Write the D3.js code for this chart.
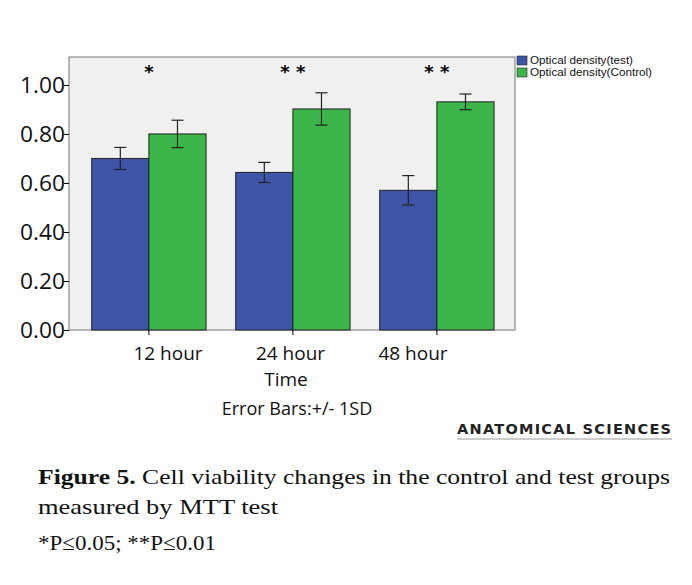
<!DOCTYPE html>
<html><head><meta charset="utf-8">
<script src="https://cdn.jsdelivr.net/npm/d3@7"></script>
<style>body{margin:0;background:#fff}</style></head>
<body><svg id="c" width="692" height="585"></svg>
<script>
const categories = ["12 hour","24 hour","48 hour"];
const seriesNames = ["Optical density(test)","Optical density(Control)"];
const testMean = [0.70, 0.643, 0.570];
const testSD = [0.045, 0.041, 0.06];
const controlMean = [0.80, 0.902, 0.931];
const controlSD = [0.056, 0.066, 0.032];
const stars = ["*","* *","* *"];
const yTicks = [0,0.2,0.4,0.6,0.8,1.0];
const colors = ["#3f56a8","#3cb54a"];

const svg = d3.select("#c");
const L=69,R=515,T=57,B=330;
const y = d3.scaleLinear().domain([0,1.114]).range([B,T]);
const x = d3.scaleBand().domain(categories).range([76.9,508.9]).paddingInner(0.206).paddingOuter(0.103);
const xs = d3.scaleBand().domain([0,1]).range([0,x.bandwidth()]);
const xl = d3.scalePoint().domain(categories).range([168,413]);
svg.append("rect").attr("x",L).attr("y",T).attr("width",R-L).attr("height",B-T).attr("fill","#f0f0f0").attr("stroke","#777");
const data = [testMean.map((m,i)=>({m,sd:testSD[i],c:categories[i],s:0})), controlMean.map((m,i)=>({m,sd:controlSD[i],c:categories[i],s:1}))].flat();
svg.selectAll("rect.bar").data(data).join("rect").attr("x",d=>x(d.c)+xs(d.s)).attr("y",d=>y(d.m))
 .attr("width",xs.bandwidth()).attr("height",d=>B-y(d.m)).attr("fill",d=>colors[d.s]).attr("stroke","#222").attr("stroke-width",1);
const eb = svg.append("g").attr("stroke","#222").attr("stroke-width",1.2);
data.forEach(d=>{const cx=x(d.c)+xs(d.s)+xs.bandwidth()/2;
 eb.append("line").attr("x1",cx).attr("x2",cx).attr("y1",y(d.m+d.sd)).attr("y2",y(d.m-d.sd));
 [d.m+d.sd,d.m-d.sd].forEach(v=>eb.append("line").attr("x1",cx-6).attr("x2",cx+6).attr("y1",y(v)).attr("y2",y(v)));});
categories.forEach((c,i)=>svg.append("text").attr("x",x(c)+x.bandwidth()/2).attr("y",78).attr("text-anchor","middle")
 .attr("font-family","DejaVu Sans").attr("font-size",18).attr("font-weight","bold").text(stars[i]));
const ya = svg.append("g").attr("transform",`translate(${L},0)`).call(d3.axisLeft(y).tickValues(yTicks).tickFormat(d3.format(".2f")).tickSize(5));
ya.select(".domain").remove();
ya.selectAll("text").attr("font-family","Open Sans").attr("font-size",22).attr("fill","#111").attr("x",-4).attr("dy","0.35em").attr("textLength",45).attr("lengthAdjust","spacingAndGlyphs");
const xa = svg.append("g").attr("transform",`translate(0,${B})`).call(d3.axisBottom(x).tickSize(5).tickFormat(""));
xa.select(".domain").remove();
const ft={"font-family":"Open Sans","font-size":19,"fill":"#111","text-anchor":"middle"};
function t(x0,y0,s,o){const e=svg.append("text").attr("x",x0).attr("y",y0).text(s);Object.entries(o).forEach(([k,v])=>e.attr(k,v));return e;}
categories.forEach(c=>t(xl(c),360,c,ft));
t(286,386,"Time",ft);
t(297,415,"Error Bars:+/- 1SD",{...ft,"font-size":18});
seriesNames.forEach((n,i)=>{svg.append("rect").attr("x",517).attr("y",56+i*12).attr("width",10).attr("height",9).attr("fill",colors[i]).attr("stroke","#222").attr("stroke-width",0.6);
 t(530,64+i*12,n,{"font-family":"Liberation Sans Narrow, Liberation Sans","font-size":11,"fill":"#111","textLength":i?122:103,"lengthAdjust":"spacingAndGlyphs"});});
t(457,434,"ANATOMICAL SCIENCES",{"font-family":"DejaVu Sans","font-weight":"bold","font-size":14.5,"fill":"#222","textLength":214});
svg.append("line").attr("x1",457).attr("x2",672).attr("y1",439).attr("y2",439).attr("stroke","#999");
const sf={"font-family":"Liberation Serif","font-size":22,"fill":"#111","lengthAdjust":"spacingAndGlyphs"};
const cap=t(38,484,"",{...sf,"textLength":632});cap.append("tspan").attr("font-weight","bold").text("Figure 5.");cap.append("tspan").text(" Cell viability changes in the control and test groups");
t(38,514,"measured by MTT test",{...sf,"textLength":240});
t(38,550,"*P≤0.05; **P≤0.01",{...sf,"textLength":178});
</script></body></html>
